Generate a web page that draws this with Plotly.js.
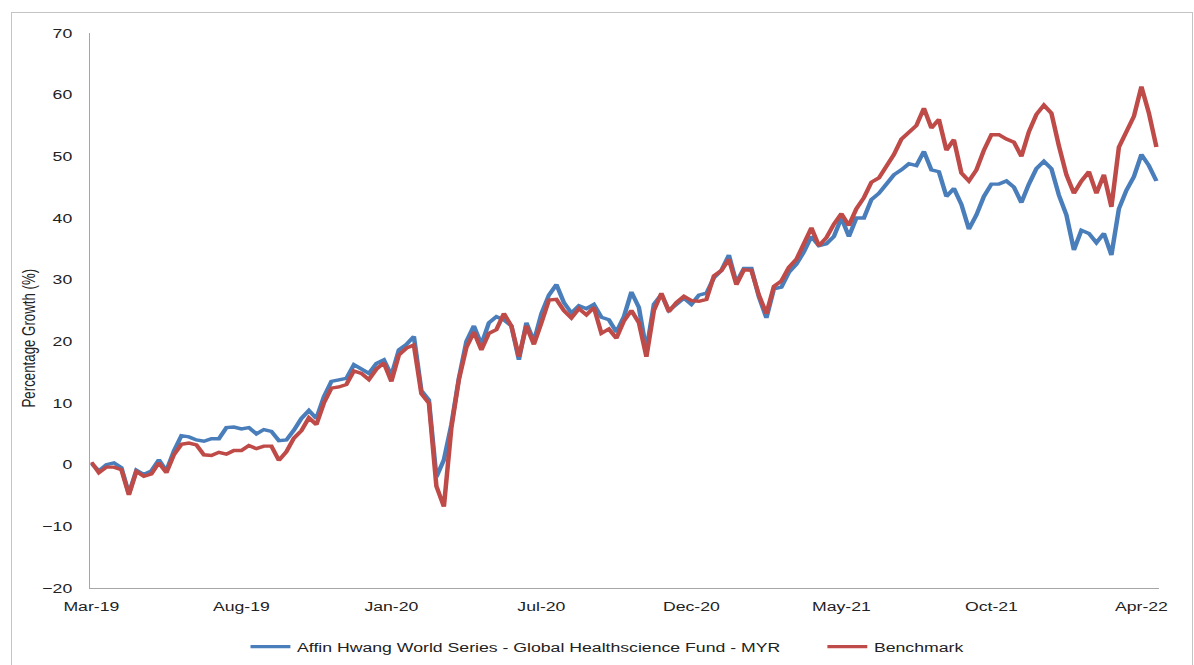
<!DOCTYPE html>
<html><head><meta charset="utf-8">
<script src="https://cdn.plot.ly/plotly-3.0.1.min.js"></script>
<style>
html,body{margin:0;padding:0;background:#fff;overflow:hidden;}
#wrap{position:absolute;left:0;top:0;width:1194px;height:665px;overflow:hidden;background:#fff;}
#chart{position:absolute;left:0;top:0;width:898px;height:665px;transform:scaleX(1.3296);transform-origin:0 0;}
#frame{position:absolute;left:11px;top:12px;width:1180px;height:670px;border:1px solid #c4c4c4;pointer-events:none;}
</style></head><body>
<div id="wrap"><div id="chart"></div><div id="frame"></div></div>
<script>
// tick labels (category axis, equal spacing of 20 samples)
const tickLabels = ['Mar-19','Aug-19','Jan-20','Jul-20','Dec-20','May-21','Oct-21','Apr-22'];
const tickPositions = [0,20,40,60,80,100,120,140];

// Affin Hwang World Series - Global Healthscience Fund - MYR (% growth)
const fund = [
 0.2,-1.0,0.0,0.3,-0.5,-4.7,-0.9,-1.6,-1.0,0.8,
 -1.0,2.2,4.7,4.5,4.0,3.8,4.2,4.2,6.0,6.1,
 5.8,6.0,5.0,5.7,5.4,3.9,4.0,5.6,7.5,8.8,
 7.5,11.0,13.5,13.8,14.0,16.2,15.5,14.8,16.4,17.0,
 14.5,18.6,19.5,20.8,12.0,10.5,-2.0,0.8,6.5,14.0,
 20.0,22.5,19.5,23.0,24.0,23.5,22.5,17.0,23.0,20.0,
 24.5,27.5,29.2,26.3,24.6,25.8,25.3,26.0,23.9,23.5,
 21.5,24.0,28.0,25.5,18.5,26.0,27.6,25.0,26.0,27.0,
 26.0,27.5,27.8,30.3,31.5,34.0,29.5,31.8,31.8,27.2,
 23.8,28.5,28.8,31.2,32.5,34.5,37.0,35.5,35.8,37.0,
 40.0,37.0,40.0,40.0,43.0,44.0,45.5,47.0,47.8,48.8,
 48.5,50.8,47.8,47.5,43.5,44.8,42.2,38.2,40.5,43.5,
 45.5,45.5,46.0,45.0,42.5,45.5,48.0,49.2,48.0,43.7,
 40.5,34.8,38.0,37.5,36.0,37.5,34.0,41.5,44.5,46.7,
 50.3,48.5,46.0
];

// Benchmark (% growth)
const benchmark = [
 0.4,-1.3,-0.4,-0.4,-0.8,-4.9,-1.1,-1.9,-1.5,0.3,
 -1.3,1.6,3.3,3.5,3.2,1.6,1.5,2.0,1.7,2.3,
 2.3,3.1,2.6,3.0,3.0,0.7,2.1,4.3,5.5,7.6,
 6.5,10.0,12.4,12.6,13.0,15.2,14.8,13.8,15.5,16.5,
 13.5,17.8,18.9,19.4,11.5,10.0,-3.5,-6.8,6.0,13.8,
 19.0,21.5,18.6,21.3,21.9,24.5,22.5,17.5,22.5,19.5,
 23.0,26.7,26.8,25.0,23.8,25.3,24.3,25.5,21.3,22.0,
 20.5,23.3,25.0,23.0,17.5,25.0,27.8,24.8,26.3,27.3,
 26.6,26.5,26.8,30.6,31.5,33.3,29.2,31.6,31.5,27.5,
 24.5,28.9,29.8,32.0,33.3,36.0,38.4,35.5,36.8,39.0,
 40.7,38.8,41.5,43.3,45.8,46.5,48.3,50.3,52.8,54.0,
 55.0,57.8,54.6,56.0,51.0,52.7,47.3,46.0,47.8,51.0,
 53.5,53.5,52.8,52.3,50.0,54.0,56.8,58.3,57.0,51.7,
 47.0,44.0,46.0,47.5,44.0,47.0,41.8,51.5,54.0,56.5,
 61.3,57.0,51.5
];

const sampleIndex = fund.map((_, i) => i);

const FONT = 'Liberation Sans, Arial, sans-serif';
const TXT = '#222222';
const traces = [
  {x: sampleIndex, y: fund, type: 'scatter', mode: 'lines',
   name: 'Affin Hwang World Series - Global Healthscience Fund - MYR',
   legend: 'legend', line: {color: '#4A7EBB', width: 3.4}},
  {x: sampleIndex, y: benchmark, type: 'scatter', mode: 'lines',
   name: 'Benchmark', legend: 'legend2', line: {color: '#BE4B48', width: 3.4}}
];

const legendBase = {orientation: 'h', xref: 'container', yref: 'container',
  xanchor: 'left', yanchor: 'middle', y: 0.0271,
  font: {family: FONT, size: 13.3, color: TXT}, bgcolor: 'rgba(0,0,0,0)', borderwidth: 0};

const layout = {
  width: 898, height: 665,
  margin: {l: 67.7, r: 25.6, t: 33, b: 77, autoexpand: false},
  paper_bgcolor: '#ffffff', plot_bgcolor: '#ffffff',
  font: {family: FONT, size: 13.3, color: TXT},
  showlegend: true,
  legend: Object.assign({}, legendBase, {x: 183.4 / 898}),
  legend2: Object.assign({}, legendBase, {x: 617.3 / 898}),
  xaxis: {
    range: [-0.13, 142.4], showgrid: false, zeroline: false,
    showline: true, linecolor: '#a6a6a6', linewidth: 1,
    tickmode: 'array', tickvals: tickPositions, ticktext: tickLabels,
    ticks: '', ticklabelstandoff: 6,
    tickfont: {family: FONT, size: 13.3, color: TXT}
  },
  yaxis: {
    range: [-20, 70], dtick: 10, tick0: 0, showgrid: false, zeroline: false,
    showline: true, linecolor: '#a6a6a6', linewidth: 1,
    ticks: '', ticklabelstandoff: 10,
    tickfont: {family: FONT, size: 13.3, color: TXT}
  },
  annotations: [{
    text: 'Percentage Growth (%)', textangle: -90, showarrow: false,
    xref: 'paper', yref: 'paper', x: (21 - 67.7) / 804.8, y: 0.450,
    xanchor: 'center', yanchor: 'middle',
    font: {family: FONT, size: 13.3, color: TXT}
  }]
};

Plotly.newPlot('chart', traces, layout, {displayModeBar: false, staticPlot: true});
</script>
</body></html>
